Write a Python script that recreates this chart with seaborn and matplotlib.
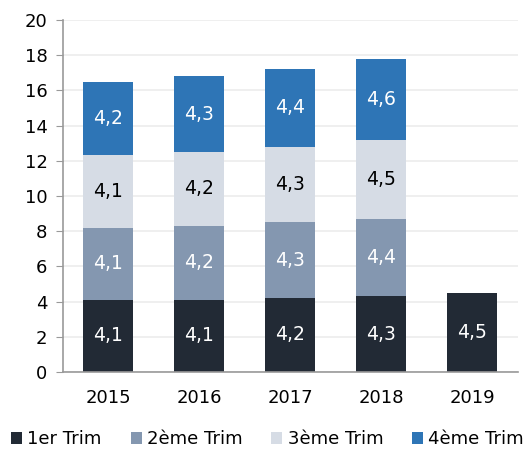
import numpy as np
import pandas as pd
import matplotlib.pyplot as plt
import seaborn as sns

# Data
years = ["2015", "2016", "2017", "2018", "2019"]
trim1 = [4.1, 4.1, 4.2, 4.3, 4.5]
trim2 = [4.1, 4.2, 4.3, 4.4, 0.0]
trim3 = [4.1, 4.2, 4.3, 4.5, 0.0]
trim4 = [4.2, 4.3, 4.4, 4.6, 0.0]
series_names = ["1er Trim", "2ème Trim", "3ème Trim", "4ème Trim"]
colors = ["#222a35", "#8497b0", "#d6dce5", "#2e75b6"]
text_colors = ["white", "white", "black", "white"]

sns.set_style("white")
plt.rcParams["font.family"] = ["DejaVu Sans"]
plt.rcParams["text.color"] = "black"

fig = plt.figure(figsize=(5.28, 4.53), dpi=100)
ax = fig.add_axes([0.119, 0.179, 0.862, 0.777])

bottom = np.zeros(len(years))
for name, vals, col, tcol in zip(series_names, [trim1, trim2, trim3, trim4], colors, text_colors):
    df = pd.DataFrame({"Année": years, "Valeur": vals})
    n_before = len(ax.containers)
    sns.barplot(data=df, x="Année", y="Valeur", color=col, width=0.55,
                bottom=bottom, ax=ax, label=name, linewidth=0, saturation=1)
    cont = ax.containers[n_before]
    labels = [f"{v:.1f}".replace(".", ",") if v > 0 else "" for v in vals]
    ax.bar_label(cont, labels=labels, label_type="center", color=tcol, fontsize=13.5)
    bottom = bottom + np.array(vals)

ax.set_ylim(0, 20)
ax.set_xlim(-0.5, 4.5)
ax.set_yticks(range(0, 21, 2))
ax.yaxis.grid(True, color="#ececec", linewidth=1.2)
ax.set_axisbelow(True)
ax.set_xlabel("")
ax.set_ylabel("")
for s in ["top", "right"]:
    ax.spines[s].set_visible(False)
for s in ["left", "bottom"]:
    ax.spines[s].set_color("#999999")
    ax.spines[s].set_linewidth(1.2)
ax.tick_params(axis="y", left=True, length=5, color="#999999", labelcolor="black",
               labelsize=13, pad=6)
ax.tick_params(axis="x", bottom=False, labelcolor="black", labelsize=13, pad=9)

ax.legend(loc="upper center", bbox_to_anchor=(0.45, -0.145), ncol=4, frameon=False,
          fontsize=13, handlelength=0.6, handleheight=0.6, handletextpad=0.3,
          columnspacing=1.6, borderaxespad=0, labelcolor="black")

fig.savefig("out.png", dpi=100)
